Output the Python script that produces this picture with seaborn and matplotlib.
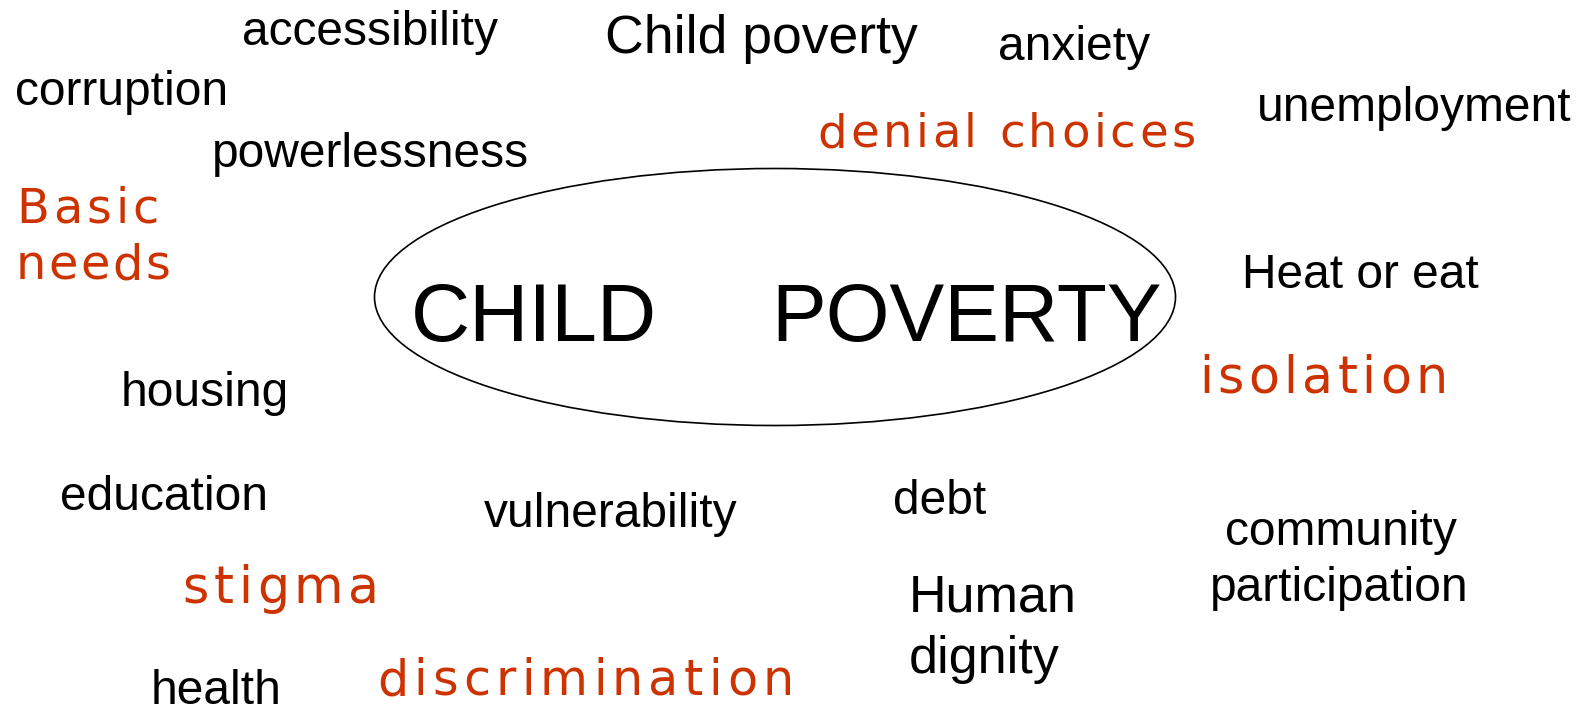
import matplotlib
matplotlib.use("Agg")
import matplotlib.pyplot as plt
import seaborn as sns
from matplotlib.patches import Ellipse
from matplotlib.font_manager import FontProperties, findfont, get_font

sns.set_theme(style="white")

# ---------------------------------------------------------------------------
# Words around the central concept
# ---------------------------------------------------------------------------

black_words = [
    "accessibility", "Child poverty", "anxiety", "corruption", "unemployment",
    "powerlessness", "Heat or eat", "housing", "education", "vulnerability",
    "debt", "community", "participation", "Human", "dignity", "health",
]
black_x = [242, 605, 998, 15, 1257, 212, 1242, 121, 60, 484, 893, 1225, 1210, 909, 909, 151]
black_y = [45, 53, 60, 105, 121, 167, 288, 406, 510, 527, 514, 545, 601, 611, 673, 704]
black_size = [34.5, 38.5, 34.5, 34.5, 34.5, 34.5, 34.5, 34.5, 34.5, 34.5,
              34.5, 34.5, 34.5, 37.5, 37.5, 34.5]

red_words = ["denial choices", "Basic", "needs", "isolation", "stigma", "discrimination"]
red_x = [817, 16, 16, 1199, 182, 377]
red_y = [147, 223, 279, 393, 603, 695]
red_size = [33.5, 34.5, 34.5, 36.5, 36.5, 35.5]
red_track = [3.6, 4.0, 2.4, 4.3, 4.8, 5.2]

center_words = ["CHILD", "POVERTY"]
center_x = [411, 771]
center_y = 341

RED = "#CC3300"
FONT = "Liberation Sans"
RED_FONT = "DejaVu Sans"
DPI = 100


def tracked_text(ax, x, y, word, size, track, color):
    """Draw a word one glyph at a time with extra letter spacing (px)."""
    font = get_font(findfont(FontProperties(family=RED_FONT)))
    font.set_size(size, DPI)
    pos = x
    for ch in word:
        ax.text(pos, y, ch, fontsize=size, family=RED_FONT, color=color,
                ha="left", va="baseline")
        adv = font.load_char(ord(ch)).linearHoriAdvance / 65536
        pos += adv + track


fig = plt.figure(figsize=(15.8, 7.12), dpi=DPI)
ax = fig.add_axes([0, 0, 1, 1])
ax.set_xlim(0, 1580)
ax.set_ylim(712, 0)
ax.axis("off")

ax.add_patch(Ellipse((775, 297), 801, 257, fill=False, edgecolor="black", lw=1.2))
for w, x in zip(center_words, center_x):
    ax.text(x, center_y, w, fontsize=59, family=FONT, color="black",
            ha="left", va="baseline")

for w, x, y, s in zip(black_words, black_x, black_y, black_size):
    ax.text(x, y, w, fontsize=s, family=FONT, color="black",
            ha="left", va="baseline")

for w, x, y, s, t in zip(red_words, red_x, red_y, red_size, red_track):
    tracked_text(ax, x, y, w, s, t, RED)

fig.savefig("out.png", dpi=DPI)
plt.close(fig)
